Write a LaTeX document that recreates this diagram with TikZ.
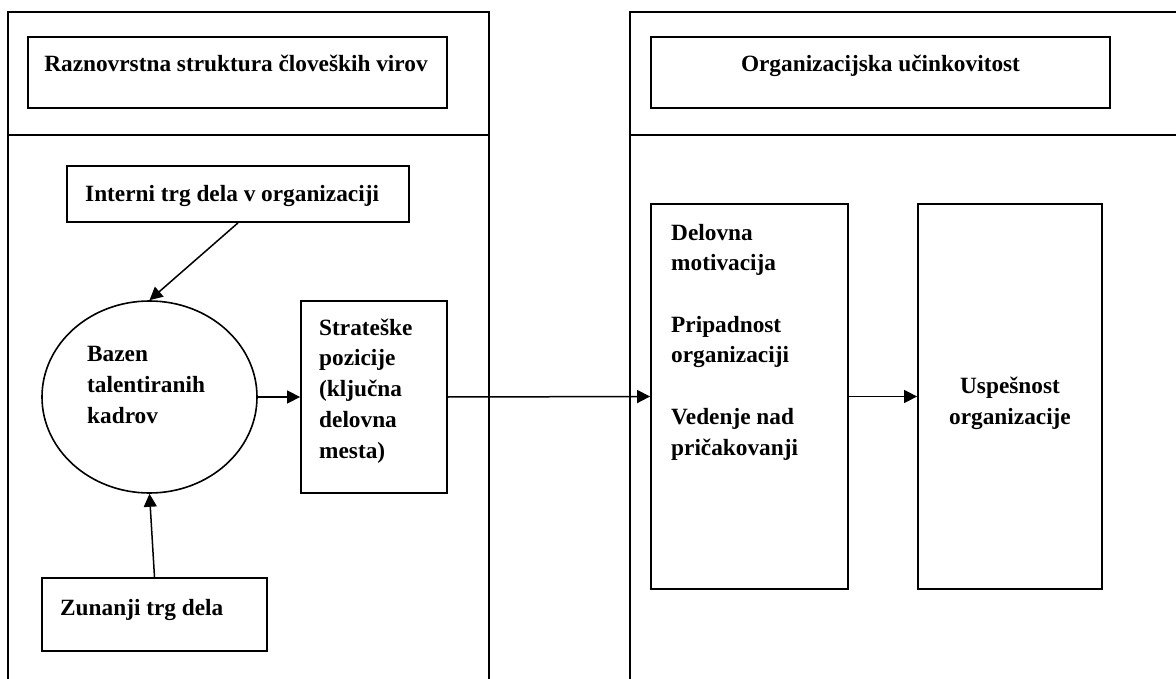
\documentclass[tikz,border=0pt]{standalone}
\usepackage{fontspec}
\setmainfont{Liberation Serif}
\usetikzlibrary{arrows.meta,shapes.geometric}
\tikzset{
  panel/.style={line width=2pt},
  box/.style={draw, line width=1.8pt, rectangle, inner sep=0pt},
  oval/.style={draw, line width=1.6pt, ellipse, inner sep=0pt},
  txt/.style={font=\fontsize{23.3}{30.7}\selectfont\bfseries, inner sep=0pt},
  arr/.style={line width=1.5pt, -{Triangle[length=13pt,width=13pt]}},
}
\begin{document}
\begin{tikzpicture}[x=1pt,y=-1pt]
\useasboundingbox (0,0) rectangle (1176,679);
\clip (0,0) rectangle (1176,679);
% panels
\draw[panel] (8,700) -- (8,12) -- (489,12) -- (489,700);
\draw[panel] (8,135) -- (489,135);
\draw[panel] (630,700) -- (630,12) -- (1200,12);
\draw[panel] (630,135) -- (1200,135);
% boxes
\node[box, minimum width=419pt, minimum height=71pt] (h1) at (237.5,72.5) {};
\node[box, minimum width=459pt, minimum height=71pt] (h2) at (880.5,72.5) {};
\node[box, minimum width=342pt, minimum height=56pt] (int) at (238,194) {};
\node[oval, minimum width=215pt, minimum height=192pt] (baz) at (149.5,397) {};
\node[box, minimum width=146pt, minimum height=192pt] (str) at (374,397) {};
\node[box, minimum width=225pt, minimum height=73pt] (zun) at (154.5,614.5) {};
\node[box, minimum width=197pt, minimum height=385pt] (del) at (749.5,396.5) {};
\node[box, minimum width=184pt, minimum height=385pt] (usp) at (1010,396.5) {};
% texts (multi-line nodes: base anchor = last line)
\node[txt, anchor=base] (t1) at (236,72) {Raznovrstna struktura človeških virov};
\node[txt, anchor=base] (t2) at (880.5,72) {Organizacijska učinkovitost};
\node[txt, anchor=base west] (t3) at (85,202) {Interni trg dela v organizaciji};
\node[txt, anchor=base west, align=left] (t4) at (87,423) {Bazen\\talentiranih\\kadrov};
\node[txt, anchor=base west, align=left] (t5) at (319,458) {Strateške\\pozicije\\(ključna\\delovna\\mesta)};
\node[txt, anchor=base west] (t6) at (60,615) {Zunanji trg dela};
\node[txt, anchor=base west, align=left] (t7) at (671,455) {Delovna\\motivacija\\[30.7pt]Pripadnost\\organizaciji\\[30.7pt]Vedenje nad\\pričakovanji};
\node[txt, anchor=base, align=center] (t8) at (1010,424.5) {Uspešnost\\organizacije};
% arrows
\draw[arr] (int.south) -- (baz.north);
\draw[arr] (zun.north) -- (baz.south);
\draw[arr] (baz.east) -- (str.west);
\draw[arr] (str.east) -- (del.west);
\draw[arr] (del.east) -- (usp.west);
\end{tikzpicture}
\end{document}
